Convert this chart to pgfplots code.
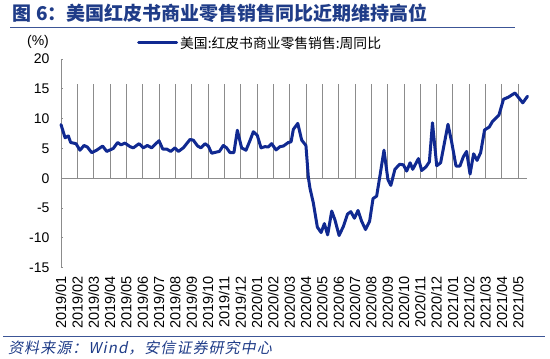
\documentclass[border=0pt]{standalone}
\usepackage{pgfplots}
\pgfplotsset{compat=1.18}
\usepackage{fontspec}
\setmainfont{Liberation Sans}
\newfontfamily\cjk{Noto Sans CJK SC}
\newfontfamily\cjkit[FakeSlant=0.2,LetterSpace=7]{Noto Sans CJK SC}
\definecolor{lineblue}{RGB}{16,41,145}
\definecolor{titleblue}{RGB}{31,60,136}
\definecolor{ruleblue}{RGB}{60,85,150}
\definecolor{axgray}{RGB}{140,140,140}
\pgfplotstableread{
x y
0.00 9.0
0.25 6.8
0.45 7.1
0.59 6.0
0.92 5.8
1.16 4.7
1.41 5.5
1.61 5.25
1.88 4.3
2.18 4.7
2.55 5.4
2.80 4.5
3.20 5.0
3.47 6.0
3.67 5.6
3.92 5.9
4.23 5.3
4.43 5.1
4.78 5.8
5.04 5.1
5.29 5.5
5.55 5.1
6.00 6.3
6.23 4.9
6.47 4.9
6.72 4.5
6.98 5.1
7.19 4.5
7.49 5.1
7.90 6.5
8.10 6.4
8.37 5.4
8.57 5.1
8.82 5.8
9.02 5.4
9.23 4.2
9.53 4.4
9.70 4.5
9.94 5.5
10.14 5.1
10.35 4.3
10.59 4.3
10.80 8.05
11.06 5.1
11.33 4.7
11.57 6.3
11.78 7.8
12.02 7.2
12.25 5.1
12.49 5.3
12.70 5.25
12.90 5.8
13.17 4.75
13.41 5.3
13.62 5.4
13.92 6.0
14.09 6.1
14.23 8.2
14.50 9.2
14.74 6.4
15.00 5.5
15.15 0.1
15.25 -1.7
15.45 -4.1
15.70 -8.2
15.93 -9.1
16.13 -7.6
16.33 -9.5
16.58 -5.5
16.78 -7.0
17.03 -9.6
17.29 -8.1
17.55 -6.0
17.75 -5.6
17.97 -6.7
18.19 -5.4
18.41 -7.2
18.65 -8.6
18.90 -7.2
19.11 -3.4
19.33 -3.0
19.55 0.7
19.78 4.7
20.02 -0.2
20.20 -1.2
20.45 1.5
20.74 2.35
20.97 2.25
21.17 1.2
21.38 2.6
21.54 1.5
21.89 3.3
22.09 1.3
22.35 1.9
22.56 2.75
22.75 9.3
23.01 2.1
23.25 2.6
23.70 9.05
23.93 6.0
24.19 2.05
24.43 2.05
24.64 3.6
24.84 4.5
25.05 0.7
25.27 4.1
25.48 3.0
25.70 4.3
25.94 8.1
26.23 8.6
26.42 9.5
26.82 10.6
27.10 13.25
27.40 13.6
27.80 14.3
28.28 12.65
28.57 13.75
}\datatable
\begin{document}
\begin{tikzpicture}[x=1pt,y=1pt]
\useasboundingbox (0,0) rectangle (550,-359);
\node[anchor=west, inner sep=0, text=titleblue, font=\cjk\bfseries\fontsize{19}{21}\selectfont] at (12,-13) {图\hspace{5pt}6：美国红皮书商业零售销售同比近期维持高位};
\draw[ruleblue, line width=1pt] (10,-27) -- (515,-27);
\node[font=\fontsize{14}{16}\selectfont, inner sep=0] at (38,-42) {(\%)};
\begin{axis}[
  at={(61pt,-267.7pt)}, anchor=south west,
  scale only axis, width=467pt, height=208.7pt,
  xmin=0, xmax=28.6, ymin=-15, ymax=20,
  axis y line*=left, axis x line*=bottom,
  x axis line style={draw=none},
  y axis line style={axgray, line width=0.8pt, -},
  xtick={0,...,28}, xtick style={draw=none},
  ytick={-15,-10,...,20}, ytick style={axgray, line width=0.8pt},
  ytick align=inside, major tick length=2.5pt,
  xticklabels={2019/01,2019/02,2019/03,2019/04,2019/05,2019/06,2019/07,2019/08,2019/09,2019/10,2019/11,2019/12,2020/01,2020/02,2020/03,2020/04,2020/05,2020/06,2020/07,2020/08,2020/09,2020/10,2020/11,2020/12,2021/01,2021/02,2021/03,2021/04,2021/05},
  /pgf/number format/assume math mode=true,
  yticklabel style={font=\fontsize{14}{16}\selectfont, xshift=-8pt},
  xticklabel style={font=\fontsize{14.5}{16}\selectfont, rotate=90, anchor=east},
  xticklabel shift=5pt,
  clip=false,
  legend style={at={(0.1627,1.0767)}, anchor=west, draw=none, fill=none, font=\cjk\fontsize{13.8}{15}\selectfont, inner sep=0pt},
  legend image code/.code={\draw[line width=3pt] (0pt,0pt) -- (38pt,0pt);},
]
\draw[axgray, line width=0.8pt] (axis cs:0,0) -- (axis cs:28.52,0);
\pgfplotsinvokeforeach{1,...,28}{\draw[axgray, line width=0.8pt] (axis cs:#1,0) -- ++(0,4.5pt);}
\addplot[lineblue, line width=3pt, line join=round, line cap=round] table[x=x,y=y] {\datatable};
\addlegendentry{美国:红皮书商业零售销售:周同比}
\end{axis}
\draw[ruleblue, line width=1pt] (3,-336) -- (545,-336);
\node[anchor=west, inner sep=0, text=titleblue, font=\cjkit\fontsize{15}{17}\selectfont] at (8,-348) {资料来源：Wind，安信证券研究中心};
\end{tikzpicture}
\end{document}
